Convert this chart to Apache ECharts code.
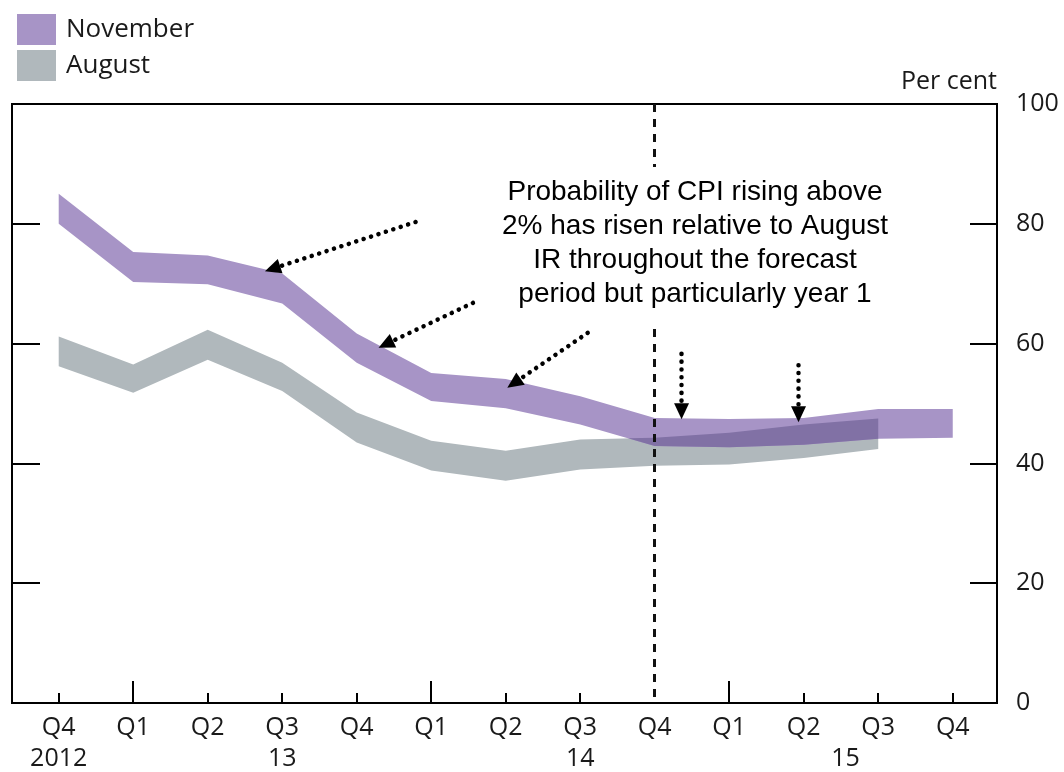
<!DOCTYPE html>
<html>
<head>
<meta charset="utf-8">
<script src="https://cdn.jsdelivr.net/npm/echarts@6/dist/echarts.min.js"></script>
<style>
  html, body { margin: 0; padding: 0; background: #fff; }
  #chart { width: 1064px; height: 772px; }
</style>
</head>
<body>
<div id="chart"></div>
<script>
// quarters Q4 2012 .. Q4 2015
const quarters = ['Q4', 'Q1', 'Q2', 'Q3', 'Q4', 'Q1', 'Q2', 'Q3', 'Q4', 'Q1', 'Q2', 'Q3', 'Q4']
const yearLabels = ['2012', '13', '14', '15']
const yearPos = [0, 3, 7, 10.56]
const yTicks = [0, 20, 40, 60, 80, 100]

// probability bands (per cent), lower and upper edge
const novLow = [80.0, 70.3, 69.9, 66.7, 56.8, 50.4, 49.2, 46.5, 42.9, 42.7, 43.1, 44.1, 44.3]
const novHigh = [85.0, 75.3, 74.7, 71.7, 61.7, 55.1, 54.1, 51.2, 47.6, 47.4, 47.6, 49.1, 49.1]
const augLow = [56.2, 51.8, 57.3, 52.1, 43.5, 38.8, 37.1, 39.0, 39.6, 39.8, 40.9, 42.4]
const augHigh = [61.2, 56.5, 62.3, 56.8, 48.5, 43.8, 42.1, 44.0, 44.3, 45.1, 46.5, 47.5]

// forecast starts at Q4 2014
const forecastStart = 8

// annotation arrows [from, to] in data units
const arrows = [
  [[4.79, 80.3], [2.87, 72.5]],
  [[5.56, 66.8], [4.39, 59.9]],
  [[7.10, 61.8], [6.11, 53.4]],
  [[8.36, 58.3], [8.36, 48.7]],
  [[9.93, 56.4], [9.93, 48.2]]
]
const note = [
  'Probability of CPI rising above',
  '2% has risen relative to August',
  'IR throughout the forecast',
  'period but particularly year 1'
]

const purple = '#a794c6'
const grey = '#b0b8bc'
const overlapColor = '#8171a5'
const ink = '#1a1a1a'
const font = '"Open Sans", "Noto Sans", sans-serif'

// where the two bands overlap: exact breakpoints from line crossings
const overlapRuns = (aLo, aHi, bLo, bHi) => {
  const n = Math.min(aLo.length, bLo.length)
  const pts = []
  for (let i = 0; i < n - 1; i++) {
    const lines = [aLo, aHi, bLo, bHi].map(s => [s[i], s[i + 1] - s[i]])
    const ts = [0]
    for (let p = 0; p < 4; p++) {
      for (let q = p + 1; q < 4; q++) {
        const dv = lines[p][1] - lines[q][1]
        if (Math.abs(dv) > 1e-9) {
          const t = (lines[q][0] - lines[p][0]) / dv
          if (t > 0 && t < 1) ts.push(t)
        }
      }
    }
    ts.sort((a, b) => a - b)
    ts.forEach(t => {
      const v = lines.map(l => l[0] + l[1] * t)
      pts.push([i + t, Math.max(v[0], v[2]), Math.min(v[1], v[3])])
    })
  }
  pts.push([n - 1, Math.max(aLo[n - 1], bLo[n - 1]), Math.min(aHi[n - 1], bHi[n - 1])])
  const runs = []
  let cur = null
  pts.forEach(p => {
    if (p[2] >= p[1] - 1e-6) {
      if (!cur) { cur = []; runs.push(cur) }
      cur.push(p)
    } else {
      cur = null
    }
  })
  return runs.filter(r => r.length > 1)
}

const bandSeries = (name, color, lo, hi, z) => ({
  name,
  type: 'custom',
  z,
  silent: true,
  itemStyle: { color },
  data: [[0, lo[0]]],
  renderItem: (params, api) => {
    const top = hi.map((v, i) => api.coord([i, v]))
    const bottom = lo.map((v, i) => api.coord([i, v])).reverse()
    return { type: 'polygon', shape: { points: top.concat(bottom) }, style: { fill: color } }
  }
})

const runs = overlapRuns(novLow, novHigh, augLow, augHigh)

const shortTicks = quarters.map((q, i) => i).filter(i => quarters[i] !== 'Q1' && i !== forecastStart)
const longTicks = quarters.map((q, i) => i).filter(i => quarters[i] === 'Q1')
const xMin = -0.627
const xMax = 12.594
const axisLineStyle = { color: '#000', width: 2 }

const chart = echarts.init(document.getElementById('chart'))

chart.setOption({
  animation: false,
  backgroundColor: '#fff',
  legend: {
    data: ['November', 'August'],
    orient: 'vertical',
    left: 12,
    top: 9,
    itemWidth: 39,
    itemHeight: 31,
    itemGap: 5,
    icon: 'rect',
    selectedMode: false,
    textStyle: { fontSize: 26, fontFamily: font, color: ink, padding: [0, 0, 0, 5] }
  },
  grid: {
    left: 12,
    right: 67,
    top: 104,
    bottom: 69,
    outerBoundsMode: 'none',
    containLabel: false,
    show: true,
    borderColor: '#000',
    borderWidth: 2
  },
  xAxis: [
    {
      type: 'value',
      min: xMin,
      max: xMax,
      position: 'bottom',
      axisLine: { show: true, onZero: false, lineStyle: axisLineStyle },
      splitLine: { show: false },
      axisTick: { show: true, inside: true, length: 10, customValues: shortTicks, lineStyle: axisLineStyle },
      axisLabel: {
        customValues: quarters.map((q, i) => i),
        formatter: v => quarters[v],
        fontSize: 25,
        fontFamily: font,
        color: ink,
        margin: 12
      }
    },
    {
      type: 'value',
      min: xMin,
      max: xMax,
      position: 'bottom',
      axisLine: { show: false, onZero: false },
      splitLine: { show: false },
      axisTick: { show: true, inside: true, length: 22, customValues: longTicks, lineStyle: axisLineStyle },
      axisLabel: {
        customValues: yearPos,
        formatter: v => yearLabels[yearPos.indexOf(v)],
        fontSize: 25,
        fontFamily: font,
        color: ink,
        margin: 43
      }
    }
  ],
  yAxis: [
    {
      type: 'value',
      position: 'right',
      min: 0,
      max: 100,
      interval: 20,
      name: 'Per cent',
      nameLocation: 'end',
      nameGap: 10,
      nameTextStyle: { align: 'right', verticalAlign: 'bottom', fontSize: 25, fontFamily: font, color: ink },
      axisLine: { show: true, onZero: false, lineStyle: axisLineStyle },
      axisTick: { show: true, inside: true, length: 27, customValues: yTicks, lineStyle: axisLineStyle },
      axisLabel: { fontSize: 25, fontFamily: font, color: ink, margin: 19 },
      splitLine: { show: false }
    },
    {
      type: 'value',
      position: 'left',
      min: 0,
      max: 100,
      interval: 20,
      axisLine: { show: true, onZero: false, lineStyle: axisLineStyle },
      axisTick: { show: true, inside: true, length: 28, lineStyle: axisLineStyle },
      axisLabel: { show: false },
      splitLine: { show: false }
    }
  ],
  series: [
    bandSeries('August', grey, augLow, augHigh, 2),
    bandSeries('November', purple, novLow, novHigh, 3),
    {
      name: 'overlap',
      type: 'custom',
      z: 4,
      silent: true,
      data: [[0, 0]],
      renderItem: (params, api) => ({
        type: 'group',
        children: runs.map(run => {
          const top = run.map(p => api.coord([p[0], p[2]]))
          const bottom = run.map(p => api.coord([p[0], p[1]])).reverse()
          return { type: 'polygon', shape: { points: top.concat(bottom) }, style: { fill: overlapColor } }
        })
      })
    },
    {
      name: 'notes',
      type: 'line',
      z: 6,
      data: [],
      markLine: {
        silent: true,
        animation: false,
        symbol: ['none', 'triangle'],
        symbolSize: [15, 16],
        label: { show: false },
        lineStyle: { color: '#000', width: 4.5, type: [0.1, 7.7], cap: 'round' },
        data: arrows.map(a => [
          { coord: a[0] },
          { coord: a[1], itemStyle: { color: '#000' } }
        ]).concat([[
          { coord: [forecastStart, 100], symbol: 'none', lineStyle: { color: '#111', width: 3, type: [8, 7], cap: 'butt' } },
          { coord: [forecastStart, 0], symbol: 'none' }
        ]])
      }
    }
  ],
  graphic: [
    {
      type: 'text',
      x: 695,
      y: 167,
      z: 10,
      style: {
        text: note.join('\n'),
        fontSize: 28,
        fontFamily: '"Liberation Sans", Arial, sans-serif',
        fill: '#000',
        align: 'center',
        verticalAlign: 'top',
        lineHeight: 34,
        backgroundColor: '#fff',
        padding: [8, 6, 12, 6]
      }
    }
  ]
})
</script>
</body>
</html>
